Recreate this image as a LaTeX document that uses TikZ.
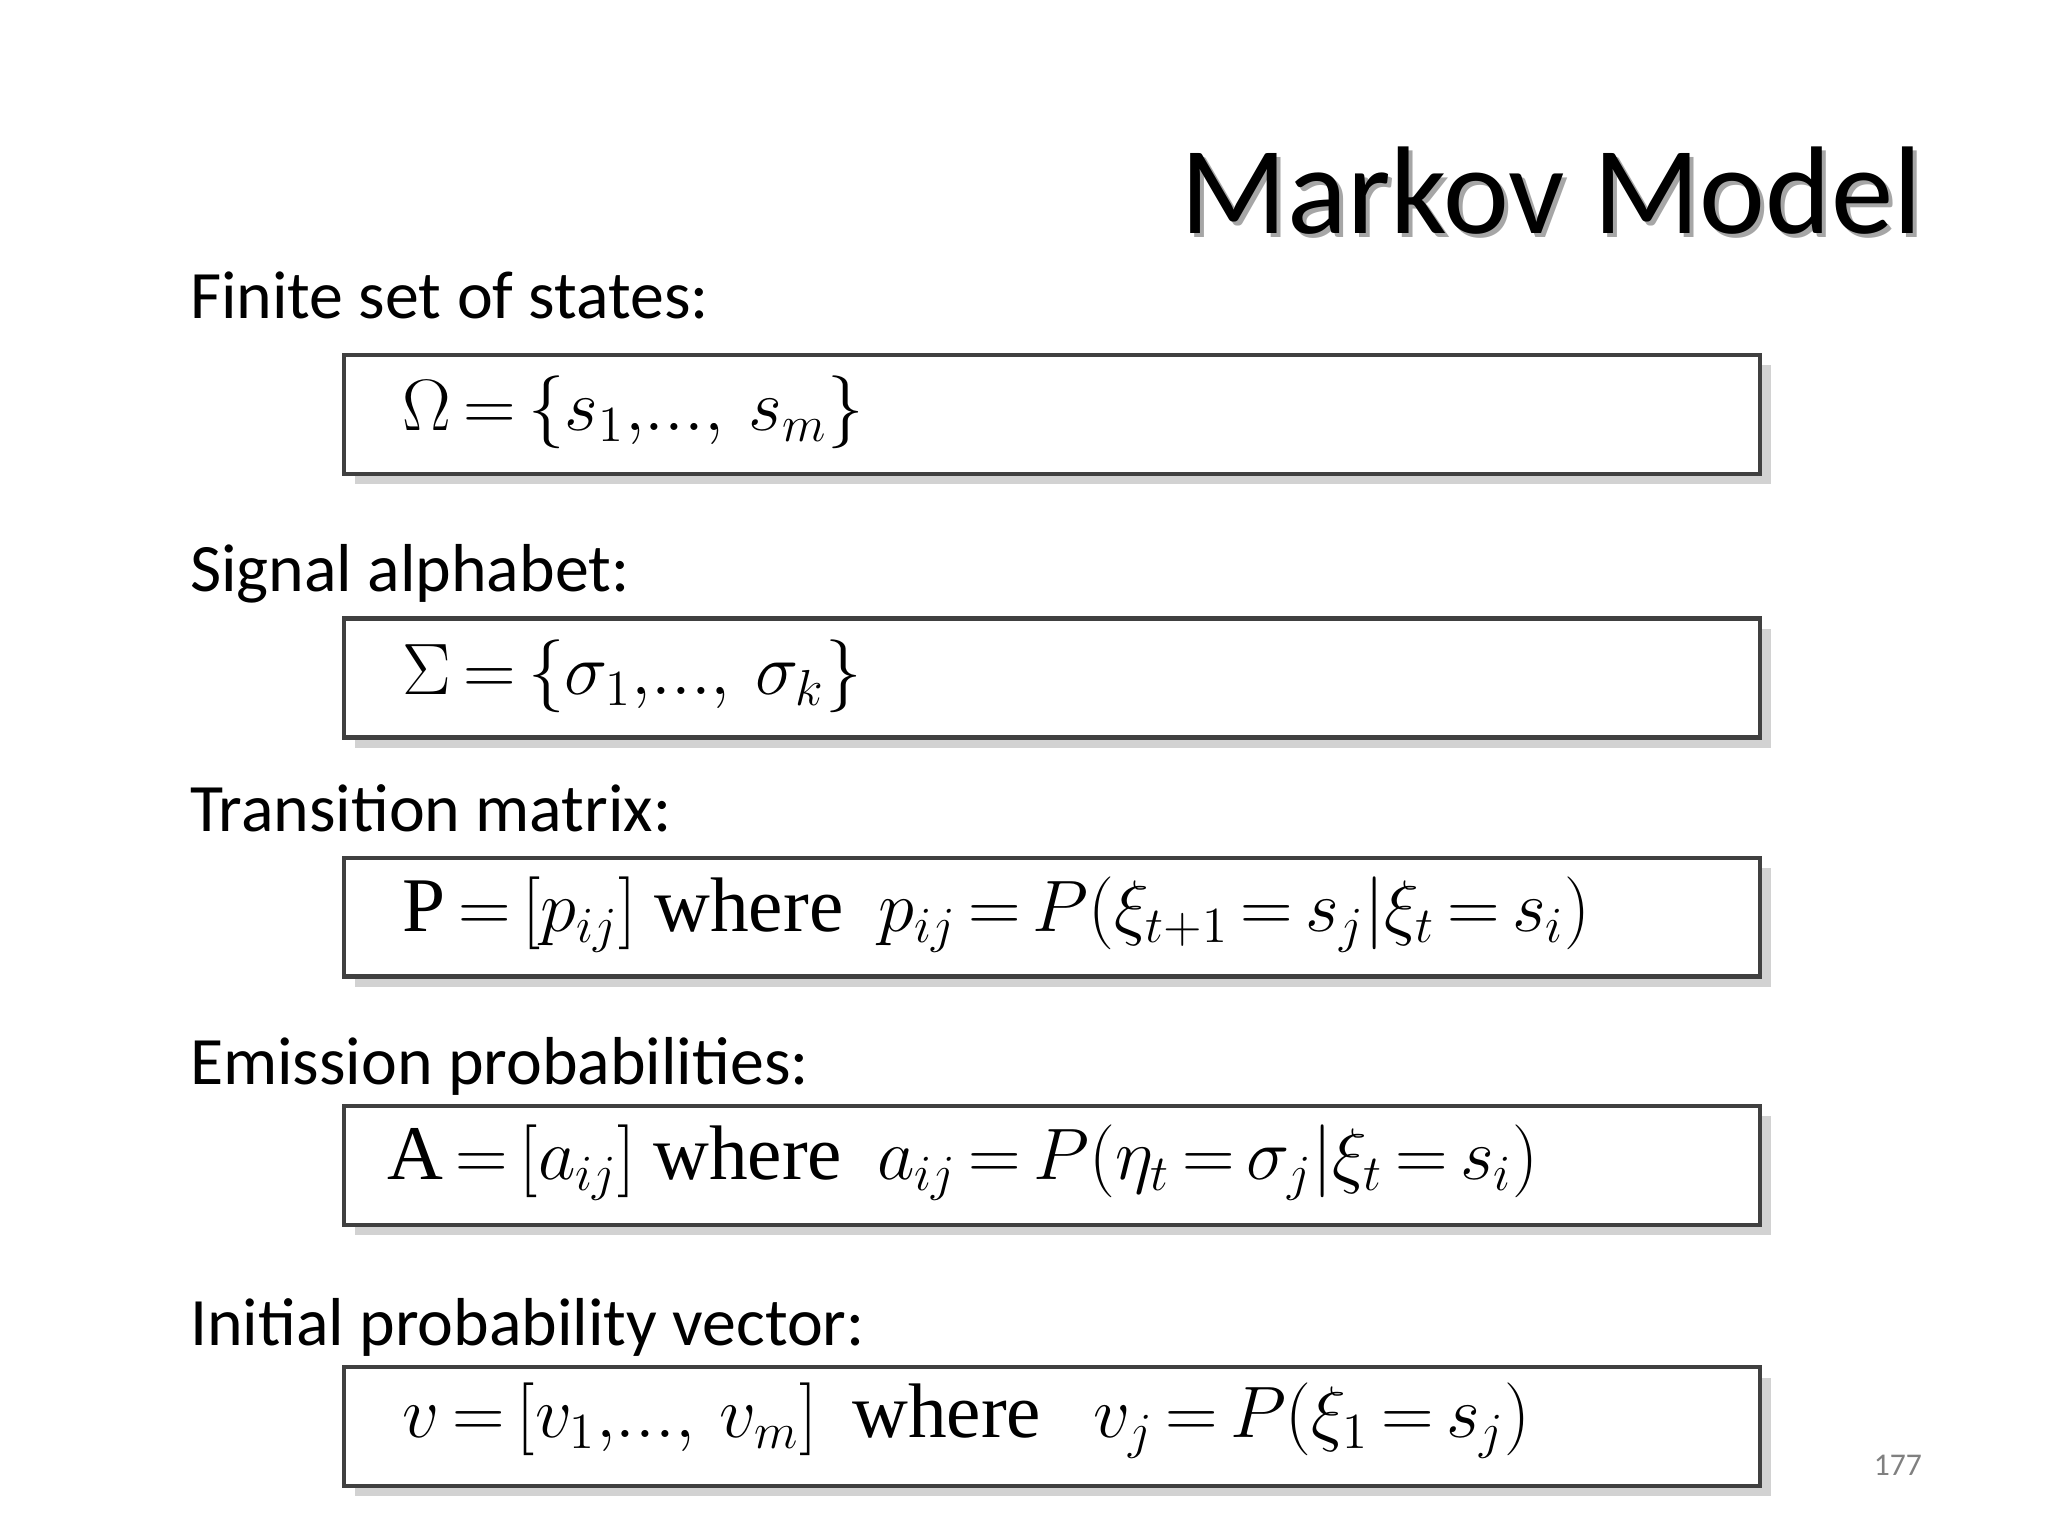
\documentclass[tikz,border=0pt]{standalone}
\usepackage{fontspec}
\setmainfont{Carlito}
\newfontfamily\serif{Liberation Serif}
\usepackage{amsmath}
\usetikzlibrary{shadows}
\newcommand{\wh}{\text{\serif where}}
\newcommand{\dts}{,\!...,\,}
\newcommand{\fm}[1]{$\thickmuskip=3mu plus 1mu\relax\medmuskip=2mu plus 1mu\relax #1$}
\begin{document}
\begin{tikzpicture}[x=0.01306cm,y=-0.01306cm,
  lbl/.style={anchor=base west,font=\fontsize{19.3}{22}\selectfont,inner sep=0},
  fbox/.style={draw=black!75,line width=1.2pt,fill=white,minimum width=1084*0.01306cm,minimum height=91*0.01306cm,anchor=north west,inner sep=0,drop shadow={shadow xshift=3pt,shadow yshift=-3pt,fill=black!35}},
  fml/.style={anchor=west,font=\fontsize{22}{26}\selectfont,inner sep=0}]
\useasboundingbox (0,0) rectangle (1568,1176);
\node[anchor=base east,inner sep=0,font=\fontsize{35.5}{40}\selectfont,text=black!35] at (1475,182) {Markov Model};
\node (title)[anchor=base east,inner sep=0,font=\fontsize{35.5}{40}\selectfont] at (1472,179) {Markov Model};
\node (l1)[lbl] at (145,244) {Finite set of states:};
\node (b1)[fbox] at (262,270) {};
\node (f1)[fml] at (308,316) {\fm{\Omega=\{s_1\dts s_m\}}};
\node (l2)[lbl] at (145,453) {Signal alphabet:};
\node (b2)[fbox] at (262,472) {};
\node (f2)[fml] at (308,518) {\fm{\Sigma=\{\sigma_1\dts\sigma_k\}}};
\node (l3)[lbl] at (145,637) {Transition matrix:};
\node (b3)[fbox] at (262,655) {};
\node (f3)[fml] at (308,700) {\fm{\text{\serif P}=[p_{ij}]\ \wh\ \ p_{ij}=P(\xi_{t+1}=s_j|\xi_t=s_i)}};
\node (l4)[lbl] at (145,830) {Emission probabilities:};
\node (b4)[fbox] at (262,845) {};
\node (f4)[fml] at (296,890) {\fm{\text{\serif A}=[a_{ij}]\ \wh\ \ a_{ij}=P(\eta_t=\sigma_j|\xi_t=s_i)}};
\node (l5)[lbl] at (145,1030) {Initial probability vector:};
\node (b5)[fbox] at (262,1045) {};
\node (f5)[fml] at (308,1088) {\fm{v=[v_1\dts v_m]\ \ \wh\ \ \ v_j=P(\xi_1=s_j)}};
\node (pg)[anchor=base east,inner sep=0,font=\fontsize{9}{10}\selectfont,text=black!50] at (1472,1130) {177};
\end{tikzpicture}
\end{document}
